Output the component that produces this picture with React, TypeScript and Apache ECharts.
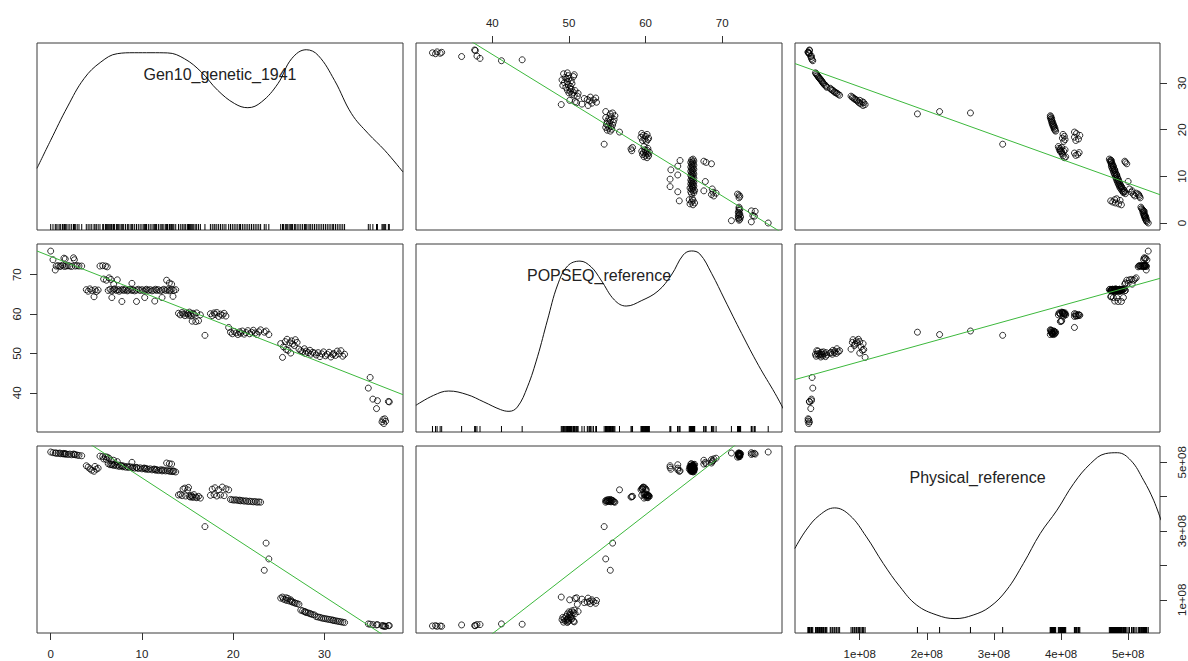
import React, { useEffect, useRef } from "react";
import * as echarts from "echarts";

// ---------- variable names, ticks, axis limits ----------
const varNames = ["Gen10_genetic_1941", "POPSEQ_reference", "Physical_reference"];
const genTicks = [0, 10, 20, 30];
const popseqTicks = [40, 50, 60, 70];
const physTicks = [1e8, 2e8, 3e8, 4e8, 5e8];
const physRightLabels = [1e8, 3e8, 5e8];
const genRange = [-1.5, 38.6];
const popseqRange = [30.05, 77.8];
const physRange = [0.035e8, 5.475e8];

// ---------- markers: [Gen10_genetic_1941, POPSEQ_reference, Physical_reference] ----------
const clusterA = [
  [0.0, 76.0, 5.30e8], [0.25, 73.8, 5.28e8], [0.5, 71.2, 5.27e8], [0.6, 72.2, 5.27e8],
  [0.8, 72.3, 5.26e8], [1.0, 72.1, 5.27e8], [1.1, 72.2, 5.25e8], [1.3, 72.4, 5.25e8],
  [1.45, 74.2, 5.26e8], [1.5, 72.1, 5.24e8], [1.6, 74.0, 5.25e8], [1.7, 72.2, 5.24e8],
  [1.9, 72.3, 5.23e8], [2.1, 72.2, 5.24e8], [2.3, 72.1, 5.22e8], [2.5, 74.3, 5.24e8],
  [2.6, 73.8, 5.23e8], [2.7, 72.2, 5.22e8], [2.9, 72.3, 5.21e8], [3.1, 72.2, 5.20e8],
  [3.4, 72.2, 5.19e8],
];
const clusterB = [
  [3.9, 66.2, 4.90e8], [4.1, 65.8, 4.86e8], [4.3, 66.4, 4.81e8], [4.5, 66.0, 4.77e8],
  [4.75, 64.4, 4.74e8], [4.85, 66.2, 4.88e8], [5.0, 65.7, 4.80e8], [5.2, 66.1, 4.83e8],
];
const clusterC1 = [
  [5.4, 72.2, 5.18e8], [5.7, 72.3, 5.17e8], [6.0, 72.2, 5.16e8], [6.2, 72.0, 5.15e8],
  [5.8, 68.9, 5.10e8], [6.1, 68.6, 5.08e8], [6.4, 69.2, 5.12e8], [6.6, 68.8, 5.05e8],
  [7.3, 68.7, 5.02e8], [6.9, 67.6, 5.06e8],
];
const clusterC2 = [
  [6.3, 66.0, 4.96e8], [6.5, 66.3, 4.93e8], [6.7, 65.9, 4.95e8], [6.9, 66.2, 4.91e8],
  [7.0, 66.4, 4.94e8], [7.2, 66.0, 4.90e8], [7.4, 66.2, 4.92e8], [7.5, 65.8, 4.88e8],
  [7.7, 66.1, 4.90e8], [7.9, 66.3, 4.87e8], [8.0, 66.0, 4.89e8], [8.2, 66.2, 4.86e8],
  [8.4, 65.9, 4.88e8], [8.5, 66.1, 4.85e8], [8.7, 66.3, 4.87e8], [8.9, 66.0, 4.84e8],
  [9.0, 66.2, 4.86e8], [9.2, 65.9, 4.83e8], [9.4, 66.1, 4.85e8], [9.6, 66.3, 4.82e8],
  [9.8, 66.0, 4.84e8], [10.0, 66.2, 4.81e8], [10.2, 65.9, 4.83e8], [10.4, 66.1, 4.80e8],
  [10.5, 66.3, 4.82e8], [10.7, 66.0, 4.79e8], [10.9, 66.2, 4.81e8], [11.1, 65.9, 4.78e8],
  [11.3, 66.1, 4.80e8], [11.5, 66.3, 4.77e8], [11.6, 66.0, 4.79e8], [11.8, 66.2, 4.76e8],
  [12.0, 65.9, 4.78e8], [12.2, 66.1, 4.75e8], [12.4, 66.3, 4.77e8], [12.6, 66.0, 4.75e8],
  [12.8, 66.2, 4.76e8], [13.0, 65.9, 4.74e8], [13.1, 66.1, 4.75e8], [13.3, 66.3, 4.73e8],
  [13.5, 66.0, 4.74e8], [13.7, 66.2, 4.72e8],
];
const clusterC3 = [
  [6.7, 64.2, 4.93e8], [7.8, 63.2, 4.90e8], [9.4, 63.2, 4.85e8], [10.3, 64.2, 4.83e8],
  [11.4, 63.3, 4.80e8], [12.2, 64.2, 4.78e8], [13.4, 64.5, 4.75e8], [8.9, 67.8, 5.00e8],
  [12.7, 68.6, 4.98e8], [13.0, 67.9, 4.96e8], [13.25, 67.6, 4.95e8],
];
const clusterD = [
  [14.0, 60.2, 4.05e8], [14.2, 59.8, 4.07e8], [14.4, 60.4, 4.03e8], [14.5, 60.0, 4.22e8],
  [14.7, 59.6, 4.25e8], [14.8, 60.3, 4.02e8], [15.0, 60.1, 4.20e8], [15.1, 59.7, 4.27e8],
  [15.2, 60.5, 4.01e8], [15.3, 60.0, 3.99e8], [15.4, 59.5, 4.04e8], [15.5, 58.2, 4.00e8],
  [15.6, 60.2, 3.98e8], [15.7, 59.9, 4.06e8], [15.9, 58.1, 3.99e8], [16.0, 60.3, 3.97e8],
  [16.2, 58.3, 4.01e8], [16.4, 59.8, 3.96e8],
];
const clusterE = [
  [16.9, 54.6, 3.13e8], [17.5, 60.1, 4.04e8], [17.7, 59.6, 4.22e8], [17.9, 60.3, 4.06e8],
  [18.0, 59.9, 4.26e8], [18.2, 60.4, 4.02e8], [18.4, 59.4, 4.20e8], [18.6, 60.0, 4.05e8],
  [18.8, 59.7, 4.28e8], [19.0, 60.2, 4.03e8], [19.2, 59.5, 4.23e8], [19.5, 56.6, 4.20e8],
];
const clusterF = [
  [19.7, 55.4, 3.92e8], [19.9, 55.0, 3.91e8], [20.1, 55.6, 3.90e8], [20.3, 55.2, 3.91e8],
  [20.5, 54.8, 3.89e8], [20.7, 55.5, 3.90e8], [20.8, 55.1, 3.88e8], [21.0, 55.7, 3.89e8],
  [21.2, 54.9, 3.87e8], [21.4, 55.3, 3.88e8], [21.6, 55.8, 3.86e8], [21.8, 55.0, 3.87e8],
  [22.0, 55.4, 3.86e8], [22.2, 55.9, 3.85e8], [22.4, 55.2, 3.86e8], [22.6, 54.8, 3.84e8],
  [22.8, 55.5, 3.85e8], [23.0, 56.0, 3.84e8],
];
const singles = [
  [23.4, 55.4, 1.86e8], [23.9, 54.8, 2.19e8], [23.6, 55.7, 2.65e8],
];
const clusterG = [
  [25.2, 52.5, 1.05e8], [25.4, 49.0, 1.08e8], [25.5, 51.7, 1.02e8], [25.7, 53.0, 1.00e8],
  [25.8, 51.0, 1.06e8], [25.9, 53.6, 0.98e8], [26.0, 50.8, 1.04e8], [26.2, 52.7, 0.96e8],
  [26.3, 50.1, 1.00e8], [26.4, 53.2, 0.95e8], [26.5, 52.4, 0.93e8], [26.7, 52.0, 0.92e8],
  [26.8, 53.5, 0.90e8], [27.0, 52.8, 0.89e8], [27.2, 51.1, 0.87e8],
];
const clusterH = [
  [27.4, 50.7, 0.70e8], [27.6, 50.4, 0.68e8], [27.8, 51.2, 0.66e8], [27.9, 50.0, 0.65e8],
  [28.0, 50.6, 0.63e8], [28.2, 50.2, 0.62e8], [28.4, 50.8, 0.60e8], [28.5, 49.8, 0.59e8],
  [28.7, 50.3, 0.57e8], [28.9, 50.1, 0.56e8],
];
const clusterI = [
  [29.1, 49.6, 0.51e8], [29.3, 50.2, 0.50e8], [29.5, 49.2, 0.49e8], [29.7, 49.9, 0.47e8],
  [29.9, 50.4, 0.46e8], [30.1, 49.4, 0.45e8], [30.3, 49.8, 0.44e8], [30.5, 50.3, 0.43e8],
  [30.7, 49.1, 0.42e8], [30.9, 49.7, 0.41e8], [31.0, 50.0, 0.40e8], [31.2, 49.5, 0.39e8],
  [31.4, 50.6, 0.38e8], [31.6, 49.9, 0.37e8], [31.8, 50.7, 0.36e8], [32.0, 49.3, 0.35e8],
  [32.2, 49.8, 0.34e8],
];
const clusterJ = [
  [34.8, 41.2, 0.30e8], [35.0, 43.9, 0.29e8], [35.3, 38.4, 0.28e8], [35.7, 36.0, 0.27e8],
  [35.8, 38.0, 0.28e8], [36.3, 32.6, 0.25e8], [36.4, 33.2, 0.24e8], [36.5, 32.2, 0.24e8],
  [36.6, 33.4, 0.23e8], [36.7, 32.8, 0.23e8], [37.0, 37.8, 0.25e8], [37.1, 37.7, 0.25e8],
];

// ---------- density curves (x in data units, y as fraction of panel height) ----------
const genDensX = [-1.5, 0, 1.83, 3.66, 5.49, 7.3, 9.16, 10.99, 12.8, 14.65, 16.5, 18.3, 20.15, 21.6, 23.08, 24.9, 26.4, 28.0, 29.3, 31.1, 32.96, 34.8, 36.6, 38.6];
const genDensY = [0.33, 0.48, 0.658, 0.81, 0.898, 0.943, 0.948, 0.948, 0.947, 0.916, 0.845, 0.747, 0.676, 0.654, 0.684, 0.783, 0.916, 0.964, 0.934, 0.8, 0.622, 0.515, 0.426, 0.31];
const popDensX = [30.04, 32.35, 34.31, 36.72, 38.9, 41.09, 42.18, 43.28, 44.59, 45.9, 47.2, 48.52, 49.83, 51.44, 52.88, 54.19, 55.94, 57.47, 59.43, 61.63, 63.37, 64.9, 65.98, 67.08, 68.61, 70.35, 72.54, 74.73, 76.91, 78.09];
const popDensY = [0.142, 0.195, 0.218, 0.199, 0.16, 0.119, 0.11, 0.133, 0.24, 0.4, 0.595, 0.782, 0.883, 0.909, 0.879, 0.808, 0.702, 0.67, 0.698, 0.75, 0.835, 0.941, 0.963, 0.947, 0.844, 0.702, 0.524, 0.355, 0.204, 0.115];
const physDensX = [0.033e8, 0.2e8, 0.4e8, 0.626e8, 0.85e8, 1.1e8, 1.35e8, 1.6e8, 1.85e8, 2.15e8, 2.42e8, 2.69e8, 2.94e8, 3.19e8, 3.44e8, 3.69e8, 3.94e8, 4.19e8, 4.44e8, 4.66e8, 4.84e8, 5.04e8, 5.23e8, 5.38e8, 5.49e8];
const physDensY = [0.452, 0.55, 0.63, 0.669, 0.63, 0.514, 0.372, 0.247, 0.149, 0.096, 0.077, 0.096, 0.14, 0.23, 0.372, 0.532, 0.657, 0.8, 0.906, 0.959, 0.964, 0.923, 0.817, 0.71, 0.603];

// ---------- fitted lines [intercept, slope] (y on x) ----------
const fitGenOnPopseq = [76.64, -1.012];
const fitGenOnPhys = [34.37, -5.169e-8];
const fitPopseqOnGen = [74.65, -0.91];
const fitPopseqOnPhys = [43.2, 4.725e-8];
const fitPhysOnGen = [6.277e8, -0.1729e8];
const fitPhysOnPopseq = [-6.916e8, 0.1732e8];

const FONT = "Liberation Sans, Arial, Helvetica, sans-serif";
const GREEN = "#3cb83c";

function buildOption() {
  const markers = [
    ...clusterA, ...clusterB, ...clusterC1, ...clusterC2, ...clusterC3, ...clusterD,
    ...clusterE, ...clusterF, ...singles, ...clusterG, ...clusterH, ...clusterI, ...clusterJ,
  ];
  const ranges = [genRange, popseqRange, physRange];
  const ticks = [genTicks, popseqTicks, physTicks];
  const physFmt = (v: number) => `${Math.round(v / 1e8)}e+08`;
  const fmts: any[] = [(v: number) => `${v}`, (v: number) => `${v}`, physFmt];
  const dens = [
    [genDensX, genDensY],
    [popDensX, popDensY],
    [physDensX, physDensY],
  ];
  const fits: any = {
    "0-1": fitGenOnPopseq, "0-2": fitGenOnPhys,
    "1-0": fitPopseqOnGen, "1-2": fitPopseqOnPhys,
    "2-0": fitPhysOnGen, "2-1": fitPhysOnPopseq,
  };
  const lefts = [37, 416, 795];
  const widths = [366, 366, 365];
  const tops = [43, 244, 446];
  const heights = [187, 188, 187];

  const grid: any[] = [];
  const xAxis: any[] = [];
  const yAxis: any[] = [];
  const series: any[] = [];
  const graphic: any[] = [];

  const tickStyle = { color: "#333", width: 1 };
  const hiddenLine = { show: false, onZero: false };
  const labelFont = 11.5;

  for (let r = 0; r < 3; r++) {
    for (let c = 0; c < 3; c++) {
      const i = r * 3 + c;
      grid.push({
        left: lefts[c], top: tops[r], width: widths[c], height: heights[r],
        show: true, borderColor: "#3a3a3a", borderWidth: 1, backgroundColor: "transparent",
      });
      const topAxis = r === 0 && c === 1;
      const showX = topAxis || (r === 2 && c !== 1);
      xAxis.push({
        gridIndex: i, type: "value", min: ranges[c][0], max: ranges[c][1],
        position: topAxis ? "top" : "bottom",
        axisLine: hiddenLine, splitLine: { show: false },
        axisTick: { show: showX, length: 7, customValues: ticks[c], lineStyle: tickStyle },
        axisLabel: {
          show: showX, customValues: ticks[c], formatter: fmts[c], fontSize: labelFont,
          color: "#222", fontFamily: FONT, margin: topAxis ? 14 : 15,
        },
      });
      if (r === c) {
        yAxis.push({
          gridIndex: i, type: "value", min: 0, max: 1, show: false,
          axisLine: hiddenLine, splitLine: { show: false },
        });
        const [dx, dy] = dens[r];
        series.push({
          type: "line", xAxisIndex: i, yAxisIndex: i, smooth: 0.4, symbol: "none",
          clip: true, silent: true,
          lineStyle: { color: "#111", width: 1 },
          data: dx.map((x, k) => [x, dy[k]]),
        });
        series.push({
          type: "custom", xAxisIndex: i, yAxisIndex: i, silent: true,
          data: markers.map((m) => [m[r], 0]),
          renderItem: (params: any, api: any) => {
            const p = api.coord([api.value(0), 0]);
            return {
              type: "line",
              shape: { x1: p[0], y1: p[1], x2: p[0], y2: p[1] - 6 },
              style: { stroke: "#000", lineWidth: 1 },
            };
          },
        });
        graphic.push({
          type: "text",
          x: lefts[c] + widths[c] / 2, y: tops[r] + 31,
          style: {
            text: varNames[r], fontSize: 16, fontFamily: FONT, fill: "#222",
            align: "center", verticalAlign: "middle",
          },
        });
      } else {
        const showY = (r === 1 && c === 0) || (r === 0 && c === 2);
        yAxis.push({
          gridIndex: i, type: "value", min: ranges[r][0], max: ranges[r][1],
          position: r === 1 ? "left" : "right",
          axisLine: hiddenLine, splitLine: { show: false },
          axisTick: { show: showY, length: 7, customValues: ticks[r], lineStyle: tickStyle },
          axisLabel: {
            show: showY, customValues: ticks[r], formatter: fmts[r], fontSize: labelFont,
            color: "#222", fontFamily: FONT, rotate: 90, margin: r === 1 ? 14 : 16,
          },
        });
        series.push({
          type: "scatter", xAxisIndex: i, yAxisIndex: i, silent: true,
          symbol: "circle", symbolSize: 6,
          itemStyle: { color: "rgba(0,0,0,0)", borderColor: "#000", borderWidth: 1 },
          data: markers.map((m) => [m[c], m[r]]),
        });
        const f = fits[`${r}-${c}`];
        const x0 = ranges[c][0];
        const x1 = ranges[c][1];
        series.push({
          type: "line", xAxisIndex: i, yAxisIndex: i, symbol: "none", clip: true, silent: true,
          lineStyle: { color: GREEN, width: 1 },
          data: [[x0, f[0] + f[1] * x0], [x1, f[0] + f[1] * x1]],
        });
      }
    }
  }
  // extra right axis of the bottom-right panel (Physical_reference)
  yAxis.push({
    gridIndex: 8, type: "value", min: physRange[0], max: physRange[1], position: "right",
    axisLine: hiddenLine, splitLine: { show: false },
    axisTick: { show: true, length: 7, customValues: physTicks, lineStyle: tickStyle },
    axisLabel: {
      show: true, customValues: physRightLabels, formatter: physFmt, fontSize: labelFont,
      color: "#222", fontFamily: FONT, rotate: 90, margin: 16,
    },
  });
  series.push({
    type: "scatter", xAxisIndex: 8, yAxisIndex: 9, data: [], silent: true,
  });

  return {
    animation: false,
    backgroundColor: "#fff",
    textStyle: { fontFamily: FONT },
    grid, xAxis, yAxis, series, graphic,
  };
}

export default function App() {
  const ref = useRef<HTMLDivElement>(null);
  useEffect(() => {
    const chart = echarts.init(ref.current as HTMLDivElement, null, { renderer: "svg" });
    chart.setOption(buildOption() as any);
    return () => chart.dispose();
  }, []);
  return (
    <div
      ref={ref}
      style={{ position: "absolute", left: 0, top: 0, width: 1188, height: 661, background: "#fff" }}
    />
  );
}
